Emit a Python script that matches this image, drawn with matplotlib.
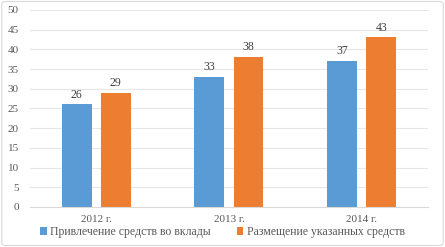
import numpy as np
import matplotlib.pyplot as plt
from matplotlib.patches import FancyBboxPatch

years = ['2012 г.', '2013 г.', '2014 г.']
deposits = [26, 33, 37]
placement = [29, 38, 43]
series_names = ['Привлечение средств во вклады', 'Размещение указанных средств']

plt.rcParams['font.family'] = ['Liberation Serif', 'DejaVu Serif']

fig = plt.figure(figsize=(4.45, 2.47), dpi=100)
ax = fig.add_axes([0.067, 0.162, 0.895, 0.798])

# рамка вокруг графика
fig.patches.append(FancyBboxPatch((0.004, 0.006), 0.992, 0.988, boxstyle='round,pad=0,rounding_size=0.01',
                                  transform=fig.transFigure, fill=False, edgecolor='#d9d9d9', linewidth=0.8))

x = np.arange(len(years))
w = 0.225
gap = 0.07
b1 = ax.bar(x - (w + gap) / 2, deposits, w, color='#5B9BD5', label=series_names[0])
b2 = ax.bar(x + (w + gap) / 2, placement, w, color='#ED7D31', label=series_names[1])

for bars in (b1, b2):
    for b in bars:
        ax.text(b.get_x() + b.get_width() / 2, b.get_height() + 1, f'{int(b.get_height())}',
                ha='center', va='bottom', fontsize=8.5, color='#404040')

ax.set_xlim(-0.5, 2.5)
ax.set_ylim(0, 50)
ax.set_yticks(range(0, 51, 5))
ax.set_xticks(x)
ax.set_xticklabels(years)
ax.tick_params(axis='both', length=0, labelsize=8, colors='#595959')
ax.tick_params(axis='y', pad=8)
ax.tick_params(axis='x', pad=6)
ax.grid(axis='y', color='#e6e6e6', linewidth=0.8)
ax.set_axisbelow(True)
for s in ['top', 'right', 'left']:
    ax.spines[s].set_visible(False)
ax.spines['bottom'].set_color('#d9d9d9')

fig.legend(handles=[b1, b2], loc='center', bbox_to_anchor=(0.5, 0.06), ncol=2, frameon=False,
           fontsize=8.5, labelcolor='#595959', handlelength=0.55, handleheight=0.55,
           handletextpad=0.3, columnspacing=2.2)

plt.savefig('out.png', dpi=100)
